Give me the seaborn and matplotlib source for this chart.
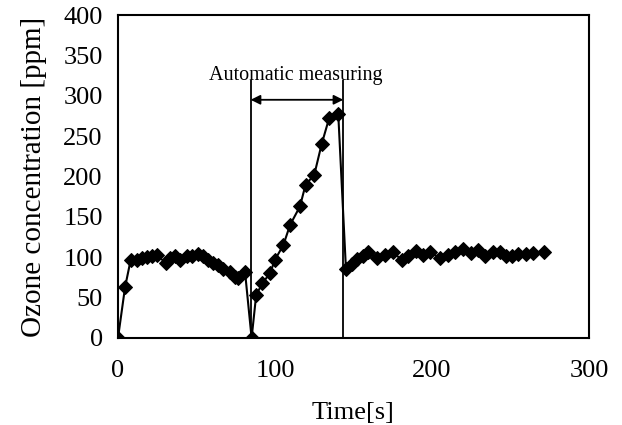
import matplotlib
matplotlib.use("Agg")
import matplotlib.pyplot as plt
import seaborn as sns
import pandas as pd

# Data
time_s = [0, 4.5, 8, 12, 15.1, 18.3, 21.5, 24.6, 30.4, 33.1, 36.3, 39.5, 43.7, 46.9,
          51.2, 54.4, 57.5, 60.7, 63.9, 67.1, 71.3, 74.5, 76.6, 80.9,
          85.1,
          88, 92, 96.8, 100, 105.3, 109.6, 115.9, 119.5, 125, 129.7, 134.6, 140.3,
          145.2, 148.8, 152.4, 156, 159.5, 164.8, 170, 175, 180.7, 184.9, 189.6, 194.5,
          199, 205.1, 210.4, 214.6, 220, 224.6, 229.5, 233.8, 238.6, 243.3, 247.1,
          250.8, 255, 259.9, 264.5, 271.3]
ozone_ppm = [0, 63, 96, 97, 99, 100, 101, 103, 93, 99, 101, 97, 101, 101,
             104, 101, 97, 93, 90, 86, 82, 76, 74, 82,
             0,
             53, 68, 80, 97, 115, 140, 163, 190, 202, 240, 273, 277,
             85, 92, 98, 102, 106, 99, 103, 106, 97, 101, 108, 103,
             106, 99, 103, 106, 110, 105, 109, 101, 106, 106, 102,
             102, 104, 104, 105, 106]

x_ticks = [0, 100, 200, 300]
y_ticks = [0, 50, 100, 150, 200, 250, 300, 350, 400]
meas_start, meas_end = 84.5, 143.5
annot_text = "Automatic measuring"

df = pd.DataFrame({"Time[s]": time_s, "Ozone": ozone_ppm})

sns.set_theme(style="white")
plt.rcParams["font.family"] = ["Liberation Serif", "DejaVu Serif"]
plt.rcParams["xtick.direction"] = "in"
plt.rcParams["ytick.direction"] = "in"

fig = plt.figure(figsize=(6.22, 4.25), dpi=100)
ax = fig.add_axes([118 / 622, 1 - 338 / 425, (589 - 118) / 622, (338 - 15) / 425])

sns.lineplot(data=df, x="Time[s]", y="Ozone", ax=ax, sort=False, color="black",
             linewidth=1.5, marker="D", markersize=7, markeredgecolor="black",
             markerfacecolor="black")

ax.set_xlim(0, 300)
ax.set_ylim(0, 400)
ax.set_xticks(x_ticks)
ax.set_yticks(y_ticks)
ax.tick_params(axis="both", labelsize=19, length=5, width=1.2, color="black",
               colors="black")
ax.tick_params(axis="x", pad=16)
ax.tick_params(axis="y", pad=11)
ax.set_xlabel("Time[s]", fontsize=19, color="black", labelpad=14)
ax.set_ylabel("Ozone concentration [ppm]", fontsize=21, color="black", labelpad=12)
for sp in ax.spines.values():
    sp.set_color("black")
    sp.set_linewidth(1.5)

# annotation
ax.vlines([meas_start, meas_end], 0, 320, color="black", linewidth=1.3)
ax.annotate("", xy=(meas_start, 295), xytext=(meas_end, 295),
            arrowprops=dict(arrowstyle="<|-|>", color="black", lw=1.3,
                            shrinkA=0, shrinkB=0, mutation_scale=14))
ax.text((meas_start + meas_end) / 2 - 0.5, 320, annot_text, ha="center", va="baseline",
        fontsize=14.5, color="black")

fig.savefig("out.png", dpi=100)
